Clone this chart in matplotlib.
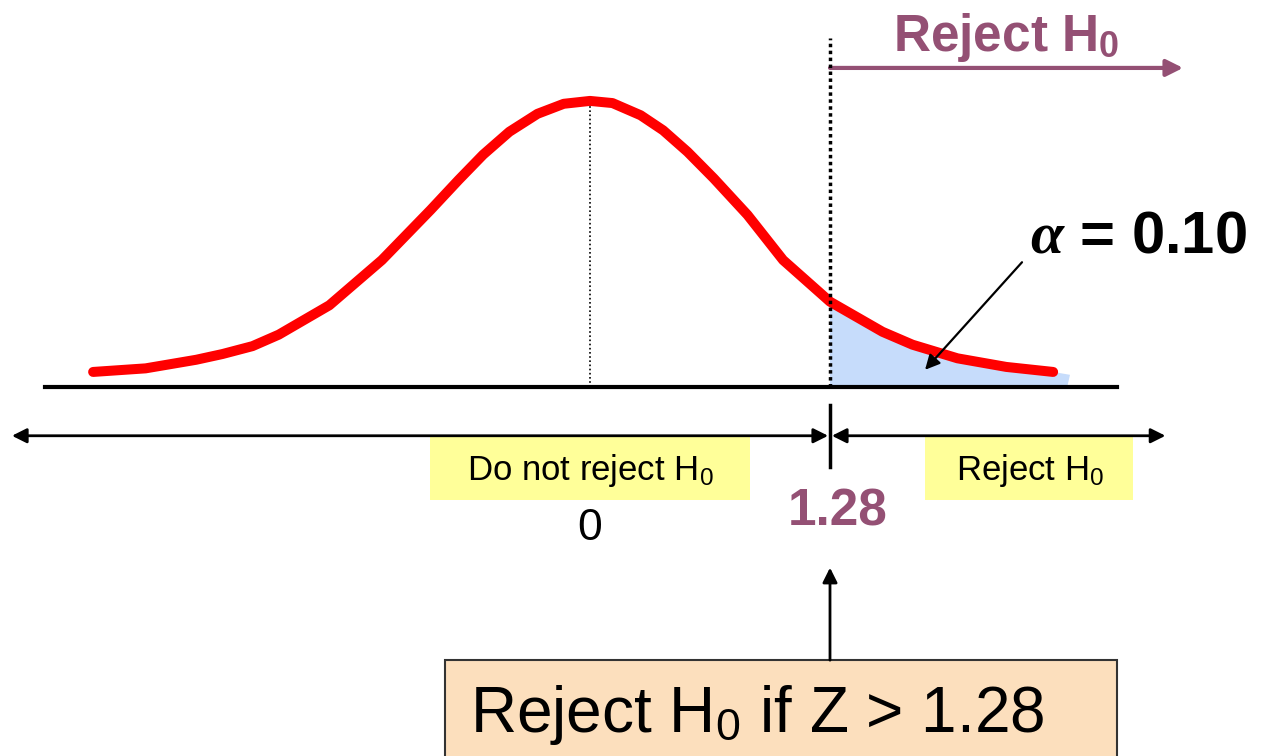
import matplotlib
matplotlib.use('Agg')
from matplotlib import pyplot as plt
from matplotlib import font_manager
from matplotlib.patches import Rectangle, Polygon

# curve (z value, density)
curve_z = [-2.65, -2.37, -2.10, -1.96, -1.80, -1.66, -1.39, -1.11, -0.85, -0.70,
           -0.57, -0.43, -0.28, -0.14, 0.0, 0.12, 0.27, 0.39, 0.52, 0.66,
           0.84, 1.03, 1.28, 1.56, 1.72, 1.96, 2.22, 2.47]
curve_density = [0.021, 0.026, 0.038, 0.046, 0.057, 0.073, 0.114, 0.177, 0.247, 0.289,
                 0.324, 0.356, 0.381, 0.395, 0.399, 0.396, 0.379, 0.358, 0.328, 0.291,
                 0.240, 0.177, 0.119, 0.077, 0.059, 0.040, 0.028, 0.021]
critical_z = 1.28
alpha_label = r'$\alpha$ = 0.10'
region_labels = ['Do not reject H$_\\mathsf{0}$', 'Reject H$_\\mathsf{0}$']
rule_text = 'Reject H$_\\mathsf{0}$ if Z > 1.28'

purple = '#945074'
names = {f.name for f in font_manager.fontManager.ttflist}
narrow = 'Liberation Sans Narrow' if 'Liberation Sans Narrow' in names else 'Liberation Sans'

plt.rcParams['font.family'] = ['Liberation Sans', 'DejaVu Sans']
plt.rcParams['mathtext.fontset'] = 'custom'
plt.rcParams['mathtext.rm'] = 'Liberation Sans'
plt.rcParams['mathtext.it'] = 'Liberation Serif:italic:bold'
plt.rcParams['mathtext.bf'] = 'Liberation Sans:bold'
plt.rcParams['mathtext.sf'] = narrow

fig = plt.figure(figsize=(12.68, 7.56), dpi=100)
ax = fig.add_axes([0, 0, 1, 1])
# 187.5 px per z unit, z=0 at x=590 px; 717 px per density unit, baseline at y=387 px
ax.set_xlim(-590 / 187.5, (1268 - 590) / 187.5)
ax.set_ylim(-369 / 717, 387 / 717)
ax.axis('off')

# shaded rejection area
tail = [(z, d) for z, d in zip(curve_z, curve_density) if z >= critical_z]
poly = tail + [(2.56, 0.017), (2.545, 0.0), (critical_z, 0.0)]
ax.add_patch(Polygon(poly, closed=True, facecolor='#c6dcfb', edgecolor='none', zorder=1))

ax.plot([-2.907, 2.811], [0, 0], color='black', lw=3, zorder=2)
ax.plot(curve_z, curve_density, color='#ff0000', lw=7.2, solid_capstyle='round',
        solid_joinstyle='round', zorder=3)

# dotted lines at mean and at the critical value
ax.plot([0, 0], [0, max(curve_density)], color='black', lw=1.2, ls=(0, (1, 1.5)), zorder=2)
ax.plot([critical_z, critical_z], [0, 0.487], color='black', lw=2.5, ls=(0, (1, 1)), zorder=4)

# top "Reject H0" arrow
ax.annotate('', xy=(3.163, 0.445), xytext=(critical_z, 0.445),
            arrowprops=dict(arrowstyle='-|>', color=purple, lw=3, mutation_scale=25,
                            shrinkA=0, shrinkB=0))
ax.text(1.616, 0.468, 'Reject H$_\\mathbf{0}$', color=purple, fontsize=37, fontweight='bold',
        ha='left', va='baseline')

# alpha label and arrow
ax.text(2.347, 0.188, alpha_label, fontsize=43, fontweight='bold', ha='left', va='baseline')
ax.annotate('', xy=(1.787, 0.024), xytext=(2.304, 0.174),
            arrowprops=dict(arrowstyle='-|>', color='black', lw=1.6, mutation_scale=22,
                            shrinkA=0, shrinkB=0))

# decision axis with arrows
row = -0.068
ax.annotate('', xy=(-3.083, row), xytext=(critical_z - 0.01, row),
            arrowprops=dict(arrowstyle='<|-|>', color='black', lw=2, mutation_scale=22,
                            shrinkA=0, shrinkB=0))
ax.annotate('', xy=(3.069, row), xytext=(critical_z + 0.01, row),
            arrowprops=dict(arrowstyle='<|-|>', color='black', lw=2, mutation_scale=22,
                            shrinkA=0, shrinkB=0))
ax.plot([critical_z, critical_z], [-0.025, -0.112], color='black', lw=2.5)

# region boxes
ax.add_patch(Rectangle((-0.853, -0.1576), 1.706, 0.0879, facecolor='#ffff99', edgecolor='none'))
ax.add_patch(Rectangle((1.787, -0.1576), 1.109, 0.0879, facecolor='#ffff99', edgecolor='none'))
ax.text(0, -0.116, region_labels[0], fontsize=25, ha='center', va='center')
ax.text(2.347, -0.116, region_labels[1], fontsize=25, ha='center', va='center')

ax.text(0, -0.197, '0', fontsize=32, ha='center', va='center')
ax.text(1.323, -0.175, '1.28', fontsize=37, fontweight='bold', color=purple,
        ha='center', va='center')

# decision rule box
ax.annotate('', xy=(critical_z, -0.252), xytext=(critical_z, -0.381),
            arrowprops=dict(arrowstyle='-|>', color='black', lw=2, mutation_scale=22,
                            shrinkA=0, shrinkB=0))
ax.add_patch(Rectangle((-0.773, -0.52), 3.584, 0.139, facecolor='#fcdfbd', edgecolor='#333333',
                       lw=1.5, clip_on=False))
ax.text(-0.64, -0.481, rule_text, fontsize=46, family=narrow, ha='left', va='baseline')

fig.savefig('out.png', dpi=100)
